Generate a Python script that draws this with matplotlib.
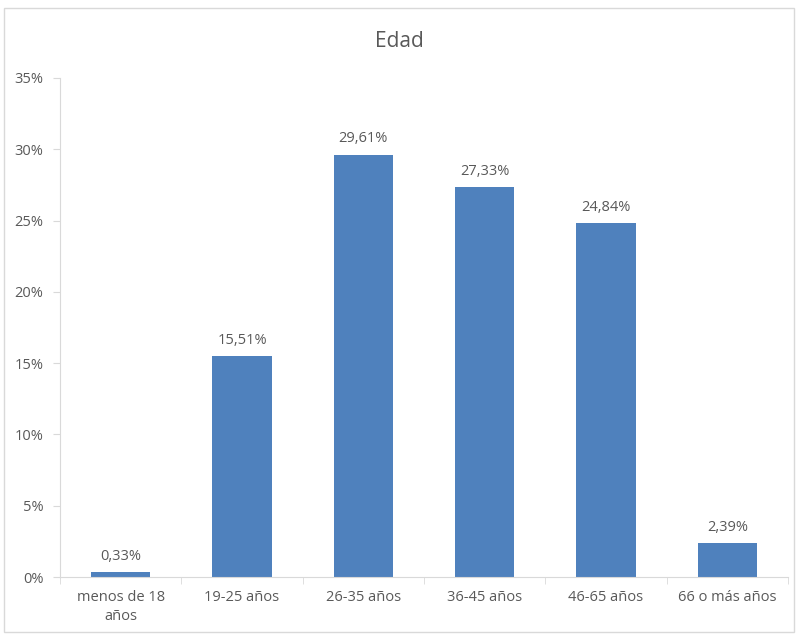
import matplotlib.pyplot as plt
from matplotlib.patches import Rectangle
import numpy as np

categorias = ['menos de 18\naños', '19-25 años', '26-35 años', '36-45 años',
              '46-65 años', '66 o más años']
porcentajes = [0.33, 15.51, 29.61, 27.33, 24.84, 2.39]
etiquetas = ['0,33%', '15,51%', '29,61%', '27,33%', '24,84%', '2,39%']
y_ticks = [0, 5, 10, 15, 20, 25, 30, 35]

plt.rcParams['font.family'] = ['Open Sans', 'DejaVu Sans']
texto = '#595959'
eje = '#D9D9D9'

fig = plt.figure(figsize=(7.98, 6.34), dpi=100)
ax = fig.add_axes([0.0752, 0.0899, 0.9123, 0.7871])

x = np.arange(len(categorias))
ax.bar(x, porcentajes, width=0.49, color='#4F81BD')
for xi, val, lab in zip(x, porcentajes, etiquetas):
    ax.annotate(lab, (xi, val), xytext=(0, 6), textcoords='offset points',
                ha='center', va='bottom', fontsize=10.5, color=texto)

ax.set_xlim(-0.5, len(categorias) - 0.5)
ax.set_ylim(0, 35)
ax.set_yticks(y_ticks)
ax.set_yticklabels(['%d%%' % t for t in y_ticks])
ax.set_xticks(x)
ax.set_xticklabels(categorias, linespacing=1.4)
ax.set_xticks(np.arange(len(categorias) + 1) - 0.5, minor=True)
ax.tick_params(axis='x', which='major', length=0, pad=9, labelsize=10.5, labelcolor=texto)
ax.tick_params(axis='x', which='minor', length=5, color=eje)
ax.tick_params(axis='y', length=5, color=eje, labelsize=10.5, labelcolor=texto, pad=7)

for s in ['top', 'right']:
    ax.spines[s].set_visible(False)
for s in ['left', 'bottom']:
    ax.spines[s].set_color(eje)

fig.text(0.5, 0.935, 'Edad', ha='center', va='center', fontsize=15, color=texto)
fig.patches.append(Rectangle((0.005, 0.003), 0.99, 0.984, transform=fig.transFigure,
                             fill=False, edgecolor=eje, linewidth=1))

plt.savefig('out.png', dpi=100)
